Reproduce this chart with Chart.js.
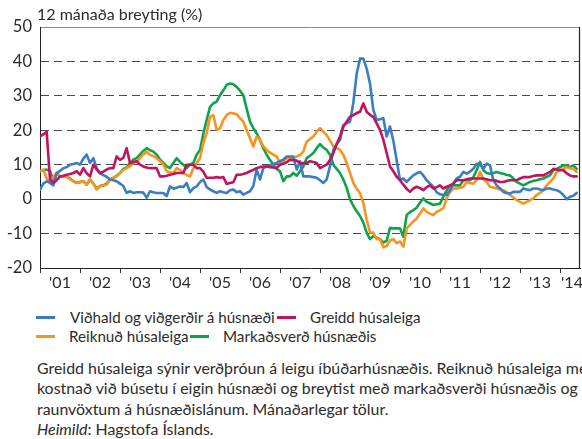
<!DOCTYPE html>
<html><head><meta charset="utf-8">
<script src="https://cdn.jsdelivr.net/npm/chart.js@4/dist/chart.umd.min.js"></script>
<style>
html,body{margin:0;padding:0;background:#fff;}
body{width:582px;height:439px;position:relative;overflow:hidden;font-family:Lato,"Open Sans",sans-serif;color:#2b2b2b;}
#c{position:absolute;left:0;top:0;}
.t{position:absolute;white-space:nowrap;font-size:16px;line-height:20px;}
.lg{font-size:15.2px;}
.sw{position:absolute;height:3px;width:19px;}
#foot{position:absolute;left:37px;top:358px;font-size:15.9px;line-height:20.3px;white-space:nowrap;}
</style></head>
<body>
<canvas id="c" width="582" height="292"></canvas>
<div class="t" style="left:37px;top:4px;">12 mánaða breyting (%)</div>
<div class="sw" style="left:36px;top:316px;background:#3a7dc4"></div>
<div class="t lg" style="left:70px;top:307px;">Viðhald og viðgerðir á húsnæði</div>
<div class="sw" style="left:277px;top:316px;background:#c1135e"></div>
<div class="t lg" style="left:310px;top:307px;">Greidd húsaleiga</div>
<div class="sw" style="left:36px;top:335px;background:#f7931e"></div>
<div class="t lg" style="left:69px;top:326px;">Reiknuð húsaleiga</div>
<div class="sw" style="left:190px;top:335px;background:#10a14a"></div>
<div class="t lg" style="left:223px;top:326px;">Markaðsverð húsnæðis</div>
<div id="foot">Greidd húsaleiga sýnir verðþróun á leigu íbúðarhúsnæðis. Reiknuð húsaleiga metur<br>kostnað við búsetu í eigin húsnæði og breytist með markaðsverði húsnæðis og<br>raunvöxtum á húsnæðislánum. Mánaðarlegar tölur.<br><i>Heimild</i>: Hagstofa Íslands.</div>
<script>
// Monthly data, Jan 2001 .. Jun 2014 (12-month change, %)
const startYear = 2001;
const yearTicks = ["'01","'02","'03","'04","'05","'06","'07","'08","'09","'10","'11","'12","'13","'14"];
const yTicks = [-20,-10,0,10,20,30,40,50];
const seriesNames = ["Viðhald og viðgerðir á húsnæði","Greidd húsaleiga","Reiknuð húsaleiga","Markaðsverð húsnæðis"];

const vidhald = [
2.8,4.5,5.2,4.7,4.0,7.5,8.2,9.0,9.3,10.0,10.2,10.5,
10.0,11.8,12.9,10.5,11.9,9.0,7.5,7.0,6.5,5.7,5.5,5.2,
4.5,3.8,1.8,2.3,1.8,2.0,2.0,1.9,0.4,2.3,2.0,1.8,
1.8,1.8,0.9,3.7,3.0,3.3,3.7,3.5,4.7,2.0,3.2,3.7,
5.0,5.7,3.5,2.8,2.3,1.8,2.3,2.0,1.8,2.6,2.8,2.0,
2.3,1.3,1.8,2.3,3.8,8.6,5.7,9.0,9.5,9.8,10.2,10.5,
11.0,11.5,12.4,12.4,12.4,8.6,11.0,6.6,6.6,6.6,6.4,6.2,
5.5,4.7,5.7,9.5,14.3,16.0,17.2,21.5,22.0,22.5,28.0,36.4,
40.8,40.8,37.9,33.6,25.9,23.0,23.2,23.5,18.2,21.1,17.0,11.3,
5.5,6.0,5.0,6.0,6.9,7.5,7.9,6.9,5.5,4.5,3.6,2.0,
1.4,1.2,1.2,2.5,4.5,6.0,6.5,7.9,7.4,8.0,8.8,10.3,
10.3,8.8,10.3,9.8,5.5,4.0,3.1,2.1,1.8,1.6,2.1,2.1,
2.1,3.1,2.8,2.6,3.1,3.1,2.8,2.6,3.1,3.1,2.8,2.6,
2.1,1.2,0.0,0.7,1.0,1.8
];
const greidd = [
18.2,18.8,19.6,5.7,4.7,5.5,6.6,6.8,7.1,7.3,7.6,8.1,
7.1,9.0,7.5,6.6,10.0,8.6,7.6,8.0,8.6,9.0,9.0,12.4,
11.4,12.0,14.8,10.5,10.8,11.0,10.0,9.5,9.2,9.0,9.0,9.0,
6.6,6.6,6.8,7.1,7.3,7.6,7.6,7.6,10.0,10.0,10.0,9.0,
9.0,8.0,6.2,6.2,6.2,6.4,6.2,6.4,4.4,4.7,4.9,7.1,
7.1,7.3,7.6,8.1,8.5,9.0,9.3,9.5,9.5,9.3,9.2,9.0,
10.0,10.3,10.7,11.4,11.3,11.2,10.5,10.5,10.5,11.0,10.8,10.5,
9.0,9.5,10.0,11.4,13.4,16.0,18.2,21.1,22.5,23.9,24.4,25.0,
25.4,27.8,25.4,24.5,23.9,22.0,20.1,17.2,13.4,9.5,8.1,6.5,
5.5,4.2,3.0,2.1,3.1,3.6,3.2,2.6,3.5,4.0,3.1,3.5,
4.0,3.1,3.6,4.0,4.5,5.5,5.5,5.5,5.8,6.0,6.0,6.0,
6.0,6.0,5.8,5.5,5.5,5.3,5.0,5.0,5.3,5.5,5.5,5.5,
6.0,6.4,6.4,6.4,6.7,6.9,6.9,6.9,7.4,7.9,8.8,8.6,
8.4,8.4,7.5,6.9,6.6,6.6
];
const reiknud = [
8.1,8.6,6.0,4.7,6.5,7.6,6.6,6.6,6.6,5.8,5.2,4.7,
4.9,5.2,4.2,5.7,4.5,2.8,3.8,4.0,4.2,5.7,6.2,6.6,
7.6,8.5,9.0,9.5,10.5,11.0,11.9,13.0,13.8,12.9,12.5,11.9,
11.0,10.0,8.1,7.8,7.6,9.0,8.5,7.6,7.0,6.6,9.0,10.5,
11.9,16.3,19.1,23.9,24.4,20.1,20.6,23.0,24.4,25.1,24.9,24.7,
23.5,22.5,20.1,17.7,15.3,18.2,17.2,15.3,14.3,13.5,12.9,12.4,
10.5,11.0,11.9,11.9,12.0,12.4,12.8,13.8,16.7,17.5,18.2,19.6,
20.6,19.6,18.6,17.0,15.3,14.8,14.3,12.9,10.5,7.6,4.7,3.0,
1.8,-1.1,-5.9,-9.7,-9.7,-11.6,-11.6,-14.0,-13.6,-12.0,-11.6,-12.8,
-12.3,-13.8,-8.5,-7.5,-6.5,-5.6,-4.2,-2.7,-3.7,-4.2,-4.6,-3.7,
-3.2,-2.7,0.2,2.0,3.1,3.1,3.3,3.6,5.0,4.7,4.5,5.5,
7.9,5.8,5.0,3.6,3.4,3.1,2.8,2.6,2.0,1.2,0.5,-0.3,
-0.8,-1.3,-0.8,-0.3,0.2,1.2,1.8,2.6,4.0,5.0,6.0,7.9,
8.5,8.8,9.3,9.0,8.8,7.9
];
const markadsverd = [
8.1,8.4,8.6,8.1,5.5,7.6,6.6,6.6,6.5,6.0,5.2,4.7,
5.0,5.2,4.2,5.7,4.5,3.0,3.8,4.0,4.5,5.7,6.2,6.8,
7.6,8.8,9.2,10.5,11.5,11.9,13.0,14.0,14.8,14.2,13.8,12.9,
11.5,10.5,9.5,9.0,10.5,11.9,10.8,10.0,9.0,10.0,10.5,12.9,
14.3,19.0,23.0,26.8,27.8,28.3,30.2,31.6,33.2,33.6,33.4,32.6,
31.5,30.2,26.3,22.5,20.6,19.1,17.2,14.8,12.9,11.4,10.0,8.8,
8.1,5.2,6.6,6.6,7.6,6.8,8.1,9.5,11.9,12.6,13.4,14.8,
16.0,15.0,14.3,12.9,10.0,8.8,7.6,5.7,3.3,0.0,-2.0,-3.5,
-4.9,-6.8,-9.7,-11.6,-10.7,-11.2,-11.6,-12.6,-12.1,-8.3,-8.5,-8.5,
-8.5,-10.9,-4.6,-3.8,-3.2,-2.5,-1.0,0.2,-0.8,-1.2,-1.7,-1.5,
-1.3,0.7,2.5,4.0,4.0,4.0,4.0,5.5,5.5,5.5,6.4,8.4,
10.8,8.4,7.6,7.4,7.6,7.9,7.6,7.4,7.0,6.9,6.0,5.0,
4.5,4.0,4.5,5.0,5.3,5.5,5.8,6.0,6.5,6.9,8.4,8.8,
9.3,9.8,9.8,9.3,9.8,8.8
];
const colors = ["#3a7dc4","#c1135e","#f7931e","#10a14a"];

const FONT = 'Lato, "Open Sans", sans-serif';
function toPoints(arr){ return arr.map((v,i)=>({x: startYear + i/12, y: v})); }

const framePlugin = {
  id:'frame',
  beforeDatasetsDraw(chart){
    const {ctx, chartArea:a, scales:{y}} = chart;
    const y0 = Math.round(y.getPixelForValue(0)) + 0.5;
    ctx.save();
    ctx.strokeStyle = '#3c3c3c'; ctx.lineWidth = 1; ctx.setLineDash([]);
    ctx.beginPath(); ctx.moveTo(a.left, y0); ctx.lineTo(a.right, y0); ctx.stroke();
    ctx.restore();
  },
  afterDraw(chart){
    const {ctx, chartArea:a} = chart;
    ctx.save();
    ctx.strokeStyle = '#222'; ctx.lineWidth = 1.2;
    ctx.beginPath(); ctx.moveTo(a.right - 0.5, a.top); ctx.lineTo(a.right - 0.5, a.bottom); ctx.stroke();
    ctx.restore();
  }
};

new Chart(document.getElementById('c'), {
  type:'line',
  data:{ datasets:[
    {label:seriesNames[1], data:toPoints(greidd), borderColor:colors[1], order:1},
    {label:seriesNames[0], data:toPoints(vidhald), borderColor:colors[0], order:2},
    {label:seriesNames[2], data:toPoints(reiknud), borderColor:colors[2], order:3},
    {label:seriesNames[3], data:toPoints(markadsverd), borderColor:colors[3], order:4}
  ].map(d=>Object.assign(d,{borderWidth:2.6, pointRadius:0, tension:0, fill:false, borderJoinStyle:'round', borderCapStyle:'round'}))},
  options:{
    responsive:false, animation:false, events:[],
    layout:{padding:{top:27,right:2,left:0,bottom:0}},
    plugins:{legend:{display:false}, tooltip:{enabled:false}},
    scales:{
      x:{
        type:'linear', min:2001, max:2014.5,
        afterBuildTicks:(s)=>{
          const t=[];
          for(let i=0;i<yearTicks.length;i++){
            t.push({value:startYear+i});
            t.push({value:startYear+i+(i===yearTicks.length-1?0.3:0.5)});
          }
          t.push({value:2014.5});
          s.ticks=t;
        },
        ticks:{autoSkip:false, maxRotation:0, minRotation:0, align:'inner', padding:0,
          color:'#2b2b2b', font:{family:FONT,size:16},
          callback:(v)=>{ const f=v-Math.floor(v); if(f>0.01 && v<2014.45) return yearTicks[Math.floor(v)-startYear]; return ''; }},
        grid:{drawOnChartArea:false, drawTicks:true, tickLength:5,
          tickColor:(ctx)=>{ const v=ctx.tick?ctx.tick.value:NaN; return (Math.abs(v-Math.round(v))<0.001 && v<2014.4)?'#333':'rgba(0,0,0,0)'; }},
        border:{display:true,color:'#222',width:1},
        afterFit:(s)=>{ s.height=24; }
      },
      y:{
        min:-20, max:50,
        afterBuildTicks:(s)=>{ s.ticks=yTicks.map(v=>({value:v})); },
        ticks:{padding:8, color:'#2b2b2b', font:{family:FONT,size:16.5}},
        grid:{drawTicks:false, lineWidth:1,
          color:(ctx)=>{ const v=ctx.tick?ctx.tick.value:null; if(v===-20||v===0) return 'rgba(0,0,0,0)'; if(v===50) return '#8a8a8a'; return '#4a4a4a'; }},
        border:{display:true,color:'#222',width:1,
          dash:(ctx)=>{ const v=ctx.tick?ctx.tick.value:null; return (v!==null && v!==50 && v!==0)?[8,5]:[]; }},
        afterFit:(s)=>{ s.width=40; }
      }
    }
  },
  plugins:[framePlugin]
});
</script>
</body></html>
